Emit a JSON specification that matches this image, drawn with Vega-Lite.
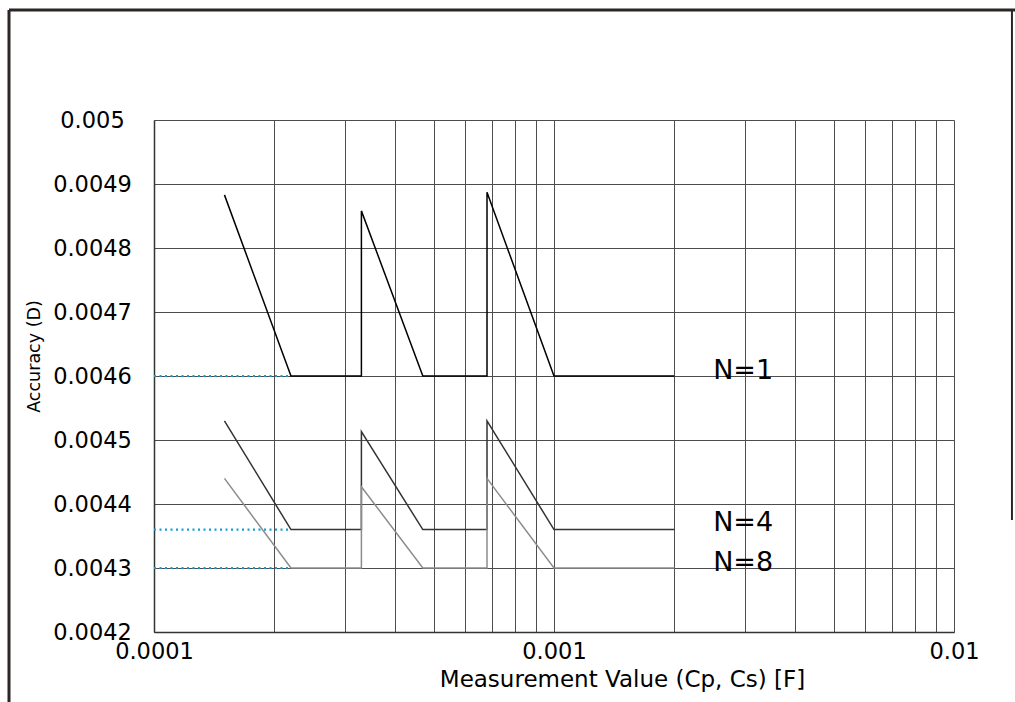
{
  "$schema": "https://vega.github.io/schema/vega-lite/v6.json",
  "width": 800,
  "height": 512,
  "autosize": {"type": "none"},
  "padding": {"left": 154, "top": 120, "right": 61, "bottom": 70},
  "background": "white",
  "config": {"view": {"stroke": null}, "font": "DejaVu Sans"},
  "datasets": {
    "series": [
      {"series": "N=1", "i": 1, "x": 0.00015, "y": 0.004883},
      {"series": "N=1", "i": 2, "x": 0.00022, "y": 0.0046},
      {"series": "N=1", "i": 3, "x": 0.00033, "y": 0.0046},
      {"series": "N=1", "i": 4, "x": 0.00033, "y": 0.004858},
      {"series": "N=1", "i": 5, "x": 0.00047, "y": 0.0046},
      {"series": "N=1", "i": 6, "x": 0.00068, "y": 0.0046},
      {"series": "N=1", "i": 7, "x": 0.00068, "y": 0.004887},
      {"series": "N=1", "i": 8, "x": 0.001, "y": 0.0046},
      {"series": "N=1", "i": 9, "x": 0.002, "y": 0.0046},
      {"series": "N=4", "i": 1, "x": 0.00015, "y": 0.00453},
      {"series": "N=4", "i": 2, "x": 0.00022, "y": 0.00436},
      {"series": "N=4", "i": 3, "x": 0.00033, "y": 0.00436},
      {"series": "N=4", "i": 4, "x": 0.00033, "y": 0.004513},
      {"series": "N=4", "i": 5, "x": 0.00047, "y": 0.00436},
      {"series": "N=4", "i": 6, "x": 0.00068, "y": 0.00436},
      {"series": "N=4", "i": 7, "x": 0.00068, "y": 0.00453},
      {"series": "N=4", "i": 8, "x": 0.001, "y": 0.00436},
      {"series": "N=4", "i": 9, "x": 0.002, "y": 0.00436},
      {"series": "N=8", "i": 1, "x": 0.00015, "y": 0.00444},
      {"series": "N=8", "i": 2, "x": 0.00022, "y": 0.0043},
      {"series": "N=8", "i": 3, "x": 0.00033, "y": 0.0043},
      {"series": "N=8", "i": 4, "x": 0.00033, "y": 0.004427},
      {"series": "N=8", "i": 5, "x": 0.00047, "y": 0.0043},
      {"series": "N=8", "i": 6, "x": 0.00068, "y": 0.0043},
      {"series": "N=8", "i": 7, "x": 0.00068, "y": 0.00444},
      {"series": "N=8", "i": 8, "x": 0.001, "y": 0.0043},
      {"series": "N=8", "i": 9, "x": 0.002, "y": 0.0043}
    ],
    "ref": [
      {"level": "N=1", "x": 0.0001, "y": 0.0046},
      {"level": "N=1", "x": 0.00022, "y": 0.0046},
      {"level": "N=4", "x": 0.0001, "y": 0.00436},
      {"level": "N=4", "x": 0.00022, "y": 0.00436},
      {"level": "N=8", "x": 0.0001, "y": 0.0043},
      {"level": "N=8", "x": 0.00022, "y": 0.0043}
    ],
    "labels": [
      {"label": "N=1", "x": 0.0025, "y": 0.004608},
      {"label": "N=4", "x": 0.0025, "y": 0.004371},
      {"label": "N=8", "x": 0.0025, "y": 0.004308}
    ],
    "frame": [{"frame": 1}]
  },
  "layer": [
    {
      "data": {"name": "series"},
      "mark": {"type": "line", "strokeWidth": 1.5},
      "encoding": {
        "x": {
          "field": "x",
          "type": "quantitative",
          "scale": {"type": "log", "domain": [0.0001, 0.01], "nice": false},
          "axis": {
            "values": [0.0001, 0.0002, 0.0003, 0.0004, 0.0005, 0.0006, 0.0007, 0.0008, 0.0009, 0.001, 0.002, 0.003, 0.004, 0.005, 0.006, 0.007, 0.008, 0.009, 0.01],
            "labelExpr": "datum.value === 0.0001 ? '0.0001' : datum.value === 0.001 ? '0.001' : datum.value === 0.01 ? '0.01' : ''",
            "labelFontSize": 22.5,
            "labelColor": "#000",
            "labelPadding": 8,
            "labelDx": 11,
            "labelFlush": false,
            "labelOverlap": false,
            "ticks": false,
            "grid": true,
            "gridColor": "#4d4d4d",
            "gridWidth": 1,
            "gridOpacity": 1,
            "domainColor": "#333",
            "domainWidth": 1.5,
            "title": "Measurement Value (Cp, Cs) [F]",
            "titleFontSize": 23,
            "titleFontWeight": "normal",
            "titleColor": "#000",
            "titleX": 468,
            "titleY": 54,
            "titleAlign": "center",
            "titleBaseline": "alphabetic"
          }
        },
        "y": {
          "field": "y",
          "type": "quantitative",
          "scale": {"domain": [0.0042, 0.005], "nice": false, "zero": false},
          "axis": {
            "values": [0.0042, 0.0043, 0.0044, 0.0045, 0.0046, 0.0047, 0.0048, 0.0049, 0.005],
            "format": ".4~f",
            "labelFontSize": 22.5,
            "labelColor": "#000",
            "labelAlign": "center",
            "labelBaseline": "middle",
            "labelPadding": 62,
            "labelFlush": false,
            "labelOverlap": false,
            "ticks": false,
            "grid": true,
            "gridColor": "#4d4d4d",
            "gridWidth": 1,
            "gridOpacity": 1,
            "domainColor": "#333",
            "domainWidth": 1.5,
            "title": "Accuracy (D)",
            "titleFontSize": 17.5,
            "titleFontWeight": "normal",
            "titleColor": "#000",
            "titleAngle": -90,
            "titleX": -120,
            "titleY": 236,
            "titleAlign": "center",
            "titleBaseline": "middle"
          }
        },
        "color": {
          "field": "series",
          "type": "nominal",
          "scale": {"domain": ["N=1", "N=4", "N=8"], "range": ["#000000", "#333333", "#8c8c8c"]},
          "legend": null
        },
        "order": {"field": "i", "type": "quantitative"}
      }
    },
    {
      "data": {"name": "ref"},
      "mark": {"type": "line", "color": "#159fcc", "strokeWidth": 2.2, "strokeDash": [2, 3.5]},
      "encoding": {
        "x": {"field": "x", "type": "quantitative"},
        "y": {"field": "y", "type": "quantitative"},
        "detail": {"field": "level", "type": "nominal"}
      }
    },
    {
      "data": {"name": "labels"},
      "mark": {"type": "text", "align": "left", "baseline": "middle", "fontSize": 27, "font": "DejaVu Sans", "color": "#000"},
      "encoding": {
        "x": {"field": "x", "type": "quantitative"},
        "y": {"field": "y", "type": "quantitative"},
        "text": {"field": "label", "type": "nominal"}
      }
    },
    {
      "data": {"name": "frame"},
      "mark": {"type": "rule", "color": "#2b2523", "strokeWidth": 3},
      "encoding": {
        "x": {"datum": 0.0000434, "type": "quantitative"},
        "x2": {"datum": 0.016},
        "y": {"datum": 0.0051719, "type": "quantitative"}
      }
    },
    {
      "data": {"name": "frame"},
      "mark": {"type": "rule", "color": "#2b2523", "strokeWidth": 3},
      "encoding": {
        "x": {"datum": 0.0000434, "type": "quantitative"},
        "y": {"datum": 0.0051719, "type": "quantitative"},
        "y2": {"datum": 0.00408}
      }
    },
    {
      "data": {"name": "frame"},
      "mark": {"type": "rule", "color": "#2b2523", "strokeWidth": 2},
      "encoding": {
        "x": {"datum": 0.01396, "type": "quantitative"},
        "y": {"datum": 0.0051719, "type": "quantitative"},
        "y2": {"datum": 0.004375}
      }
    }
  ]
}
